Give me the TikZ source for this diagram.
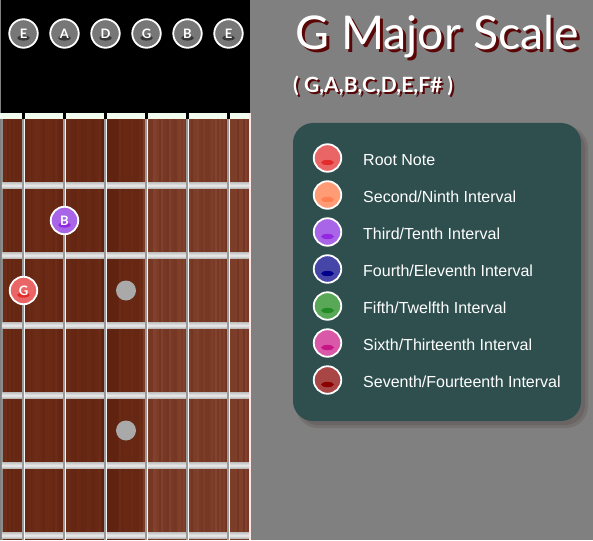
\documentclass[tikz,border=0pt]{standalone}
\usepackage{fontspec}
\usepackage{tikz}
\setmainfont{Liberation Sans}
\newfontfamily\gillfont{Lato}

\definecolor{bggrey}{HTML}{808080}
\definecolor{nutwhite}{HTML}{F2FCEE}
\definecolor{woodA}{HTML}{6E2C16}
\definecolor{woodB}{HTML}{84432E}
\definecolor{woodC}{HTML}{4A1608}
\definecolor{fretA}{HTML}{C4C4C4}
\definecolor{fretB}{HTML}{B2B2B2}
\definecolor{fretC}{HTML}{ECECEC}
\definecolor{dotgrey}{HTML}{A9A9A9}
\definecolor{slatebox}{HTML}{2F4F4F}
\definecolor{boxshadow}{HTML}{6B6464}
\definecolor{titleshade}{HTML}{5A0606}
\definecolor{openA}{HTML}{777777}
\definecolor{openB}{HTML}{383838}
\definecolor{rootA}{HTML}{EA6666}
\definecolor{rootB}{HTML}{E22C2C}
\definecolor{secondA}{HTML}{FF9C75}
\definecolor{secondB}{HTML}{FF7F50}
\definecolor{thirdA}{HTML}{A965E8}
\definecolor{thirdB}{HTML}{9228E0}
\definecolor{fourthA}{HTML}{4646A8}
\definecolor{fourthB}{HTML}{00008B}
\definecolor{fifthA}{HTML}{58A858}
\definecolor{fifthB}{HTML}{228B22}
\definecolor{sixthA}{HTML}{D958A8}
\definecolor{sixthB}{HTML}{C71585}
\definecolor{seventhA}{HTML}{A84545}
\definecolor{seventhB}{HTML}{8B0000}

\begin{document}
\begin{tikzpicture}[x=1pt,y=-1pt,
  gem/.style 2 args={circle, draw=white, line width=1.8pt, minimum size=27.5pt,
    inner sep=0pt, fill=#1, text=white,
    font=\gillfont\bfseries\fontsize{13}{13}\selectfont,
    path picture={\fill[#2] ([yshift=-4.5pt]path picture bounding box.center)
      ellipse [x radius=6.5pt, y radius=2.6pt];}},
  fretbar/.style={top color=fretA, bottom color=fretB, middle color=fretC},
  fretdot/.style={circle, fill=dotgrey, minimum size=20pt, inner sep=0pt},
  legtext/.style={anchor=base west, inner sep=0pt, text=white,
    font=\fontsize{16}{19}\selectfont},
]
\useasboundingbox (0,0) rectangle (593,540);
\fill[bggrey] (0,0) rectangle (593,540);
%Headstock
\fill[black] (0,0) rectangle (250,113.5);
\fill[gray] (0,0) rectangle (1,540);
%Wood
\pgfmathsetseed{11}
\foreach \x in {3,5,...,247}{
  \pgfmathtruncatemacro\mix{70+30*rnd}
  \ifnum\x<142 \fill[woodA!\mix!woodC] (\x,119) rectangle (\x+2.1,540);
  \else \fill[woodB!\mix!woodC] (\x,119) rectangle (\x+2.1,540); \fi
}
\fill[woodC, opacity=0.3] (102,119) rectangle (119,540);
\fill[gray!90] (1,119) rectangle (3,540);
\fill[red!10!white] (249,113.5) rectangle (250.5,540);
%Frets
\foreach \y in {185.5,255.5,325.5,395.5,465.5,535.5}
  \fill[fretbar] (2,\y-3) rectangle (249,\y+3);
%Nut
\fill[nutwhite] (0,113.5) rectangle (249,119);
\foreach \x in {23.5,64.5,105.5,146.5,187.5,228.5}{
  \fill[black] (\x-1.8,113.5) rectangle (\x+1.8,119);
  \draw[gray!80, line width=2.2pt] (\x,119) -- (\x,540);
  \draw[white!92!gray, line width=1pt] (\x+0.5,119) -- (\x+0.5,540);
}
%Markers
\node[fretdot] (dot3) at (126,290.5) {};
\node[fretdot] (dot5) at (126,430.5) {};
%Notes
\node[gem={thirdA}{thirdB}] (noteB) at (64.5,220.5) {B};
\node[gem={rootA}{rootB}] (noteG) at (23.5,290.5) {G};
%Open strings
\foreach \x/\s [count=\i] in {23.5/E,64.5/A,105.5/D,146.5/G,187.5/B,228.5/E}
  \node[gem={openA}{openB}, minimum size=28.5pt] (str\i) at (\x,33.5) {\s};
%Title
\node[anchor=base west, inner sep=0pt, text=titleshade,
  font=\gillfont\fontsize{46.5}{46.5}\selectfont] (titleshadow) at (298,53) {G Major Scale};
\node[anchor=base west, inner sep=0pt, text=white,
  font=\gillfont\fontsize{46.5}{46.5}\selectfont] (title) at (295,50) {G Major Scale};
\node[anchor=base west, inner sep=0pt, text=titleshade,
  font=\gillfont\bfseries\fontsize{21}{21}\selectfont] (scaleshadow) at (295,95) {( G,A,B,C,D,E,F\# )};
\node[anchor=base west, inner sep=0pt, text=white,
  font=\gillfont\bfseries\fontsize{21}{21}\selectfont] (scale) at (293,93) {( G,A,B,C,D,E,F\# )};
%Legend
\fill[boxshadow, opacity=0.5, rounded corners=22] (296,126) rectangle (588,428);
\fill[boxshadow, rounded corners=20] (298,128) rectangle (585,425);
\fill[slatebox, rounded corners=20] (293,123) rectangle (581,421);
\node[gem={rootA}{rootB}] (leg1) at (327.5,158) {};
\node[gem={secondA}{secondB}] (leg2) at (327.5,195) {};
\node[gem={thirdA}{thirdB}] (leg3) at (327.5,232) {};
\node[gem={fourthA}{fourthB}] (leg4) at (327.5,269) {};
\node[gem={fifthA}{fifthB}] (leg5) at (327.5,306) {};
\node[gem={sixthA}{sixthB}] (leg6) at (327.5,343) {};
\node[gem={seventhA}{seventhB}] (leg7) at (327.5,380) {};
%Text
\node[legtext] (txt1) at (363,165.5) {Root Note};
\node[legtext] (txt2) at (363,202.5) {Second/Ninth Interval};
\node[legtext] (txt3) at (363,239.5) {Third/Tenth Interval};
\node[legtext] (txt4) at (363,276.5) {Fourth/Eleventh Interval};
\node[legtext] (txt5) at (363,313.5) {Fifth/Twelfth Interval};
\node[legtext] (txt6) at (363,350.5) {Sixth/Thirteenth Interval};
\node[legtext] (txt7) at (363,387.5) {Seventh/Fourteenth Interval};
\end{tikzpicture}
\end{document}
